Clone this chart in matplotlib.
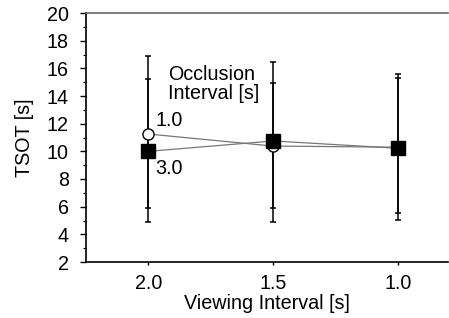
import matplotlib
matplotlib.use("Agg")
import matplotlib.pyplot as plt
from matplotlib.ticker import MultipleLocator
import numpy as np

viewing = [2.0, 1.5, 1.0]
occl_1_mean = [11.25, 10.38, 10.30]
occl_1_upper = [16.9, 16.44, 15.59]
occl_1_lower = [5.88, 4.91, 5.03]
occl_3_mean = [10.0, 10.75, 10.22]
occl_3_upper = [15.2, 14.92, 15.28]
occl_3_lower = [4.91, 5.88, 5.52]

plt.rcParams['font.family'] = ['Liberation Sans', 'DejaVu Sans']
FS = 14.2

fig = plt.figure(figsize=(4.49, 3.18), dpi=100)
ax = fig.add_axes([86/449, 56/318, 362/449, 249/318])

m1 = np.array(occl_1_mean)
m3 = np.array(occl_3_mean)
err1 = [m1 - np.array(occl_1_lower), np.array(occl_1_upper) - m1]
err3 = [m3 - np.array(occl_3_lower), np.array(occl_3_upper) - m3]

ax.errorbar(viewing, m1, yerr=err1, fmt='none', ecolor='black', elinewidth=1.1, capsize=2.5, capthick=1.1, zorder=2)
ax.errorbar(viewing, m3, yerr=err3, fmt='none', ecolor='black', elinewidth=1.1, capsize=2.5, capthick=1.1, zorder=2)
ax.plot(viewing, m1, color='#777777', lw=0.9, zorder=3)
ax.plot(viewing, m3, color='#777777', lw=0.9, zorder=3)
ax.plot(viewing, m1, 'o', ms=8, mfc='white', mec='black', mew=1.0, zorder=4)
ax.plot(viewing, m3, 's', ms=9.5, mfc='black', mec='black', zorder=5)

ax.set_xlim(2.25, 0.8)
ax.set_ylim(2, 20)
ax.set_xticks(viewing)
ax.set_xticklabels(['2.0', '1.5', '1.0'])
ax.yaxis.set_major_locator(MultipleLocator(2))
ax.yaxis.set_minor_locator(MultipleLocator(1))
ax.tick_params(axis='both', labelsize=FS, direction='out', width=1.0)
ax.tick_params(axis='y', which='major', length=4.5, pad=8)
ax.tick_params(axis='y', which='minor', length=2.5, width=0.8)
ax.tick_params(axis='x', which='major', length=2.5, pad=6)

ax.spines['right'].set_visible(False)
ax.spines['top'].set_color('#666666')
ax.spines['top'].set_linewidth(1.2)
ax.spines['left'].set_linewidth(1.2)
ax.spines['bottom'].set_linewidth(1.2)

ax.set_xlabel('Viewing Interval [s]', fontsize=FS, labelpad=1)
ax.set_ylabel('TSOT [s]', fontsize=FS, labelpad=9)

ax.text(1.972, 12.23, '1.0', fontsize=FS, ha='left', va='center')
ax.text(1.972, 8.79, '3.0', fontsize=FS, ha='left', va='center')
ax.text(1.92, 14.9, 'Occlusion\nInterval [s]', fontsize=FS, ha='left', va='center', linespacing=1.0)

fig.savefig('out.png', dpi=100)
